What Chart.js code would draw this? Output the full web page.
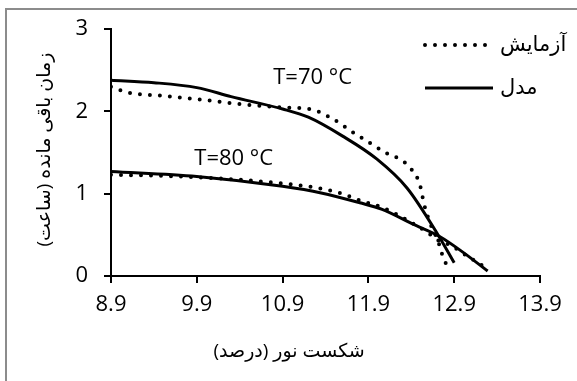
<!DOCTYPE html>
<html>
<head>
<meta charset="utf-8">
<script src="https://cdn.jsdelivr.net/npm/chart.js@4.4.1/dist/chart.umd.min.js"></script>
<style>
  html, body { margin: 0; padding: 0; background: #fff; }
  #wrap { width: 577px; height: 381px; position: relative; }
</style>
</head>
<body>
<div id="wrap"><canvas id="c"></canvas></div>
<script>
// ── data ─────────────────────────────────────────────────────────────
const xTicks = [8.9, 9.9, 10.9, 11.9, 12.9, 13.9];

const exp70X = [8.9, 9.1, 9.5, 9.9, 10.4, 10.9, 11.25, 11.5, 11.7, 11.9, 12.1, 12.3, 12.4, 12.5, 12.55, 12.62, 12.71, 12.78, 12.85];
const exp70Y = [2.30, 2.23, 2.19, 2.15, 2.09, 2.05, 2.02, 1.90, 1.76, 1.63, 1.50, 1.40, 1.30, 1.11, 0.87, 0.64, 0.43, 0.20, 0.08];

const mod70X = [8.9, 9.4, 9.9, 10.3, 10.9, 11.2, 11.6, 12.0, 12.35, 12.7, 12.9];
const mod70Y = [2.38, 2.35, 2.29, 2.18, 2.03, 1.93, 1.70, 1.42, 1.07, 0.52, 0.16];

const exp80X = [8.9, 9.4, 9.9, 10.4, 10.95, 11.25, 11.6, 11.8, 12.07, 12.4, 12.6, 12.7, 12.86, 13.1, 13.2, 13.29];
const exp80Y = [1.23, 1.22, 1.20, 1.17, 1.12, 1.08, 1.00, 0.92, 0.83, 0.65, 0.52, 0.44, 0.37, 0.21, 0.15, 0.06];

const mod80X = [8.9, 9.9, 10.9, 11.35, 11.8, 12.06, 12.42, 12.73, 13.0, 13.29];
const mod80Y = [1.27, 1.21, 1.09, 1.01, 0.89, 0.81, 0.63, 0.48, 0.29, 0.06];

const expLabel = 'آزمایش';
const modLabel = 'مدل';
const xTitle = 'شکست نور (درصد)';
const yTitle = 'زمان باقی مانده (ساعت)';
const note70 = 'T=70 °C';
const note80 = 'T=80 °C';

// ── helpers ──────────────────────────────────────────────────────────
const pts = (xs, ys) => xs.map((x, i) => ({ x, y: ys[i] }));
const dotted = (label, data) => ({ label, data, borderColor: '#000', backgroundColor: '#000', borderWidth: 4,
  borderDash: [0, 10], borderCapStyle: 'round', pointRadius: 0, cubicInterpolationMode: 'monotone' });
const solid = (label, data) => ({ label, data, borderColor: '#000', backgroundColor: '#000', borderWidth: 3,
  pointRadius: 0, cubicInterpolationMode: 'monotone' });

const FONT = '"Open Sans", "DejaVu Sans", sans-serif';

const extras = {
  id: 'extras',
  beforeDraw(chart) {
    const { ctx, width, height } = chart;
    ctx.save();
    ctx.fillStyle = '#fff';
    ctx.fillRect(0, 0, width, height);
    ctx.strokeStyle = '#8c8c8c';
    ctx.lineWidth = 2;
    ctx.strokeRect(6, 9, width + 20, height + 20);
    ctx.restore();
  },
  afterDraw(chart) {
    const { ctx, scales: { x, y }, chartArea } = chart;
    ctx.save();
    ctx.fillStyle = '#000';
    ctx.textBaseline = 'middle';

    // curve notes
    ctx.font = '22px ' + FONT;
    ctx.textAlign = 'center';
    ctx.fillText(note70, x.getPixelForValue(11.25), y.getPixelForValue(2.41));
    ctx.fillText(note80, x.getPixelForValue(10.33), y.getPixelForValue(1.42));

    // legend (first two datasets carry the styles)
    ctx.font = '21px ' + FONT;
    ctx.direction = 'rtl';
    ctx.textAlign = 'left';
    chart.data.datasets.slice(0, 2).forEach((ds, i) => {
      const yy = 45 + i * 43;
      ctx.save();
      ctx.strokeStyle = ds.borderColor;
      ctx.lineWidth = ds.borderWidth;
      ctx.lineCap = ds.borderCapStyle || 'butt';
      ctx.setLineDash(ds.borderDash || []);
      ctx.beginPath();
      ctx.moveTo(425, yy);
      ctx.lineTo(493, yy);
      ctx.stroke();
      ctx.restore();
      ctx.fillText(ds.label, 500, yy);
    });

    // axis titles
    ctx.font = '19px ' + FONT;
    ctx.textAlign = 'center';
    ctx.fillText(xTitle, 289, 352);
    ctx.translate(45, (chartArea.top + chartArea.bottom) / 2 - 3);
    ctx.rotate(-Math.PI / 2);
    ctx.fillText(yTitle, 0, 0);
    ctx.restore();
  }
};

const tickFont = { family: FONT, size: 22 };

new Chart(document.getElementById('c'), {
  type: 'line',
  data: {
    datasets: [
      dotted(expLabel, pts(exp70X, exp70Y)),
      solid(modLabel, pts(mod70X, mod70Y)),
      dotted(expLabel, pts(exp80X, exp80Y)),
      solid(modLabel, pts(mod80X, mod80Y))
    ]
  },
  options: {
    responsive: true, maintainAspectRatio: false, animation: false,
    layout: { padding: { top: 24, right: 37, left: 0, bottom: 0 } },
    plugins: { legend: { display: false }, tooltip: { enabled: false } },
    scales: {
      x: {
        type: 'linear', min: 8.9, max: 13.9,
        afterBuildTicks: s => { s.ticks = xTicks.map(v => ({ value: v })); },
        afterFit: s => { s.height = 105; },
        ticks: { color: '#000', font: tickFont, padding: 9, callback: v => v.toFixed(1), maxRotation: 0 },
        grid: { drawOnChartArea: false, drawTicks: true, tickLength: 7, color: '#000', lineWidth: 2 },
        border: { color: '#000', width: 2 }
      },
      y: {
        min: 0, max: 3,
        afterFit: s => { s.width = 111; },
        ticks: { color: '#000', font: tickFont, padding: 16, stepSize: 1 },
        grid: { drawOnChartArea: false, drawTicks: true, tickLength: 7, color: '#000', lineWidth: 2 },
        border: { color: '#000', width: 2 }
      }
    }
  },
  plugins: [extras]
});
</script>
</body>
</html>
